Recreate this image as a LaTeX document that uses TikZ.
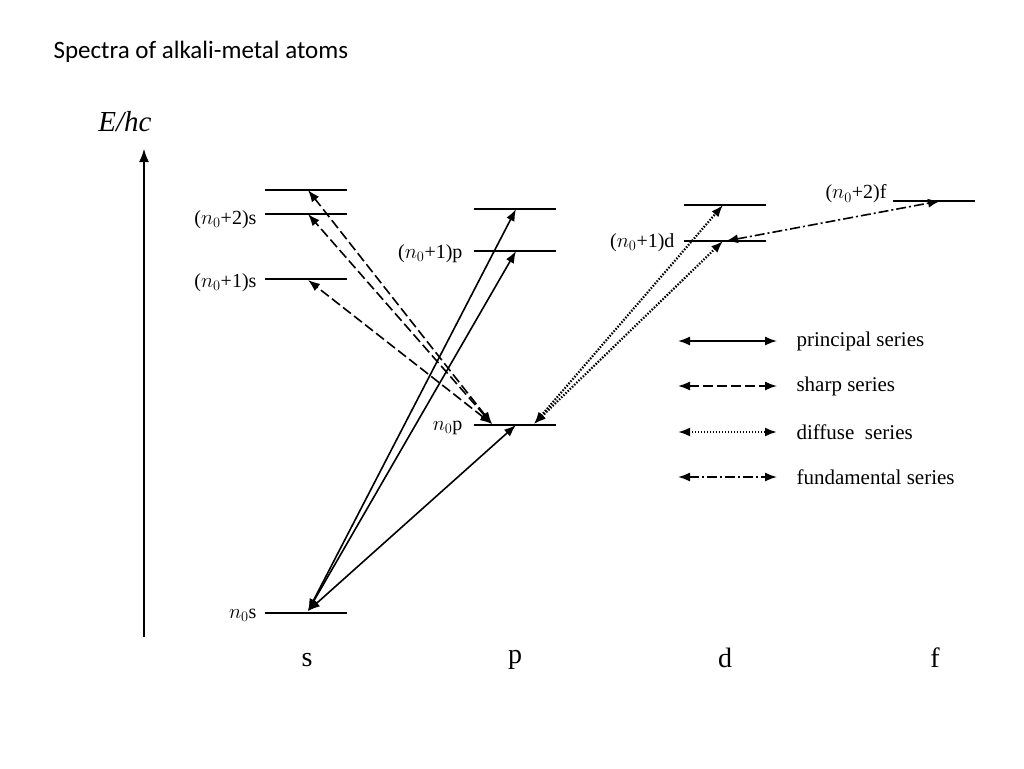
\documentclass[tikz,border=0pt]{standalone}
\usepackage{fontspec}
\setmainfont{Liberation Serif}
\newfontfamily\titlefont{Carlito}
\usetikzlibrary{arrows.meta}
\begin{document}
\begin{tikzpicture}[x=1pt,y=-1pt,
 lvl/.style={line width=2.6pt},
 tr/.style={{Latex[length=12pt,width=9pt]}-{Latex[length=12pt,width=9pt]},line width=1.6pt},
 prin/.style={tr},
 shrp/.style={tr,dash pattern=on 10pt off 4pt},
 diff/.style={tr,dash pattern=on 1.5pt off 1.5pt,line width=2.2pt},
 fund/.style={tr,dash pattern=on 10pt off 3pt on 2pt off 3pt},
 lab/.style={font=\fontsize{20}{24}\selectfont},
 txt/.style={anchor=west,font=\fontsize{21}{25}\selectfont}]
\useasboundingbox (0,0) rectangle (1024,768);
\node[anchor=west,font=\titlefont\fontsize{25}{30}\selectfont] (title) at (50,52) {Spectra of alkali-metal atoms};
% axis
\coordinate (ab) at (144,637); \coordinate (at) at (144,148);
\draw[line width=2.8pt,-{Latex[length=14pt,width=10pt]}] (ab) -- (at);
\node[font=\itshape\fontsize{29}{33}\selectfont] (ax) at (125,122) {E/hc};
% levels
\draw[lvl] (265,613) -- (347,613); \draw[lvl] (265,279) -- (347,279);
\draw[lvl] (265,214) -- (347,214); \draw[lvl] (265,190) -- (347,190);
\draw[lvl] (474,425) -- (556,425); \draw[lvl] (474,251) -- (556,251); \draw[lvl] (474,209) -- (556,209);
\draw[lvl] (684,241) -- (766,241); \draw[lvl] (684,205) -- (766,205);
\draw[lvl] (893,201) -- (975,201);
% labels
\node[lab,anchor=east] (l1) at (260,615) {$n_0$s};
\node[lab,anchor=east] (l2) at (260,283) {($n_0$+1)s};
\node[lab,anchor=east] (l3) at (260,220) {($n_0$+2)s};
\node[lab,anchor=east] (l4) at (466,428) {$n_0$p};
\node[lab,anchor=east] (l5) at (466,254) {($n_0$+1)p};
\node[lab,anchor=east] (l6) at (678,243) {($n_0$+1)d};
\node[lab,anchor=east] (l7) at (890,194) {($n_0$+2)f};
% points
\coordinate (s0) at (308,611);
\coordinate (p0a) at (516,425); \coordinate (p1) at (516,251); \coordinate (p2) at (516,209);
\coordinate (p0b) at (492,424); \coordinate (s1) at (308,280); \coordinate (s2) at (308,214); \coordinate (s3) at (308,190);
\coordinate (p0c) at (534,424); \coordinate (d1) at (723,241); \coordinate (d2) at (723,205);
\coordinate (d1b) at (726,241); \coordinate (f1) at (940,201);
\draw[prin] (s0) -- (p0a); \draw[prin] (s0) -- (p1); \draw[prin] (s0) -- (p2);
\draw[shrp] (p0b) -- (s1); \draw[shrp] (p0b) -- (s2); \draw[shrp] (p0b) -- (s3);
\draw[diff] (p0c) -- (d1); \draw[diff] (p0c) -- (d2);
\draw[fund] (d1b) -- (f1);
% legend
\foreach \y/\st/\t [count=\i] in {341/prin/principal series,386/shrp/sharp series,432/diff/diffuse\ \ series,477/fund/fundamental series}{
 \coordinate (la\i) at (678,\y); \coordinate (lb\i) at (777,\y);
 \draw[\st] (la\i) -- (lb\i);
 \node[txt] (lt\i) at (793,\y) {\t};
}
% bottom
\node[font=\fontsize{28}{32}\selectfont] (bs) at (307,660) {s};
\node[font=\fontsize{28}{32}\selectfont] (bp) at (515,660) {p};
\node[font=\fontsize{28}{32}\selectfont] (bd) at (725,658) {d};
\node[font=\fontsize{28}{32}\selectfont] (bf) at (935,658) {f};
\end{tikzpicture}
\end{document}
